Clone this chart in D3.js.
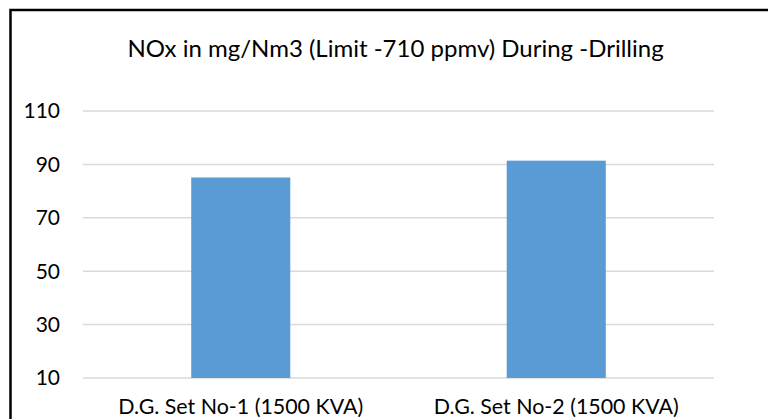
<!DOCTYPE html>
<html>
<head>
<meta charset="utf-8">
<script src="https://cdn.jsdelivr.net/npm/d3@7/dist/d3.min.js"></script>
<style>
  body { margin: 0; background: #fff; }
  text { font-family: Lato, "Open Sans", sans-serif; fill: #000; }
</style>
</head>
<body>
<div id="chart"></div>
<script>
const categories = ["D.G. Set No-1 (1500 KVA)", "D.G. Set No-2 (1500 KVA)"];
const values = [85.1, 91.4];
const yTicks = [10, 30, 50, 70, 90, 110];
const title = "NOx in mg/Nm3 (Limit -710 ppmv) During -Drilling";

const width = 768;
const height = 419;
const margin = { top: 111, right: 54, bottom: 41, left: 83 };

const svg = d3.select("#chart")
  .append("svg")
  .attr("width", width)
  .attr("height", height);

// outer chart frame (only top and left are visible in the crop)
svg.append("rect")
  .attr("x", 10.5)
  .attr("y", 10)
  .attr("width", 800)
  .attr("height", 500)
  .attr("fill", "none")
  .attr("stroke", "#000")
  .attr("stroke-width", 2.5);

const x = d3.scaleBand()
  .domain(categories)
  .range([margin.left, width - margin.right])
  .padding(0);

const y = d3.scaleLinear()
  .domain([10, 110])
  .range([height - margin.bottom, margin.top]);

// gridlines
svg.append("g")
  .selectAll("line")
  .data(yTicks)
  .enter().append("line")
  .attr("x1", margin.left)
  .attr("x2", width - margin.right)
  .attr("y1", d => y(d))
  .attr("y2", d => y(d))
  .attr("stroke", "#d9d9d9")
  .attr("stroke-width", 1.5);

// y tick labels
svg.append("g")
  .selectAll("text")
  .data(yTicks)
  .enter().append("text")
  .attr("x", 60)
  .attr("y", d => y(d))
  .attr("dy", "0.35em")
  .attr("text-anchor", "end")
  .attr("font-size", "21px")
  .text(d => d);

// bars
const barW = x.bandwidth() * 0.314;
svg.append("g")
  .selectAll("rect")
  .data(values)
  .enter().append("rect")
  .attr("x", (d, i) => x(categories[i]) + x.bandwidth() / 2 - barW / 2)
  .attr("y", d => y(d))
  .attr("width", barW)
  .attr("height", d => y(10) - y(d))
  .attr("fill", "#5b9bd5");

// category labels
svg.append("g")
  .selectAll("text")
  .data(categories)
  .enter().append("text")
  .attr("x", d => x(d) + x.bandwidth() / 2)
  .attr("y", 414)
  .attr("text-anchor", "middle")
  .attr("font-size", "21.4px")
  .text(d => d);

svg.append("text")
  .attr("x", 395.5)
  .attr("y", 57)
  .attr("text-anchor", "middle")
  .attr("font-size", "24px")
  .text(title);
</script>
</body>
</html>
